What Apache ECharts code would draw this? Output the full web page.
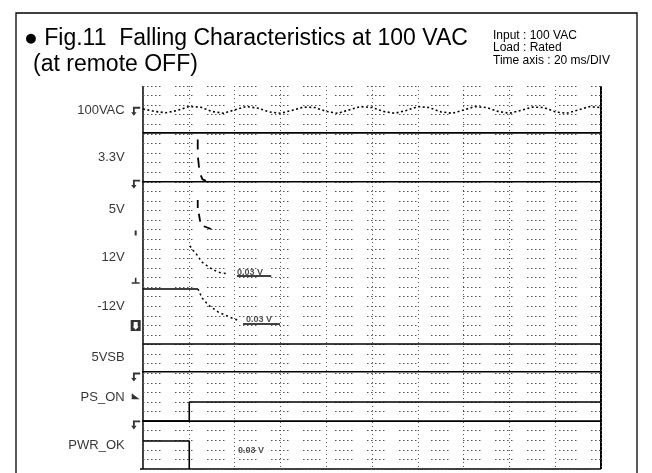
<!DOCTYPE html>
<html><head><meta charset="utf-8">
<script src="https://cdn.jsdelivr.net/npm/echarts@6/dist/echarts.min.js"></script>
<style>html,body{margin:0;padding:0;background:#fff}#c{width:652px;height:473px}</style>
</head><body><div id="c"></div>
<script>
// ---- data (time in ms, level in screen divisions) ----
const channelNames = ['100VAC', '3.3V', '5V', '12V', '-12V', '5VSB', 'PS_ON', 'PWR_OK'];
const channelLabelLevel = [7.5, 6.5, 5.42, 4.42, 3.4, 2.33, 1.5, 0.5];

const acTime = [0,5,10,15,20,25,30,35,40,45,50,55,60,65,70,75,80,85,90,95,100,105,110,115,120,125,130,135,140,145,150,155,160,165,170,175,180,185,190,195,200];
const acLevel = [7.52,7.47,7.44,7.49,7.57,7.56,7.47,7.43,7.50,7.57,7.54,7.46,7.43,7.49,7.56,7.55,7.47,7.43,7.50,7.57,7.55,7.47,7.43,7.49,7.57,7.55,7.46,7.43,7.50,7.57,7.55,7.47,7.43,7.49,7.56,7.55,7.46,7.43,7.50,7.57,7.55];

const rail33 = [[0, 7.02], [200, 7.02]];
const fall33 = [[23.9, 6.88], [23.9, 6.55], [24.4, 6.33], [25, 6.16], [26, 6.05], [27.5, 6.02]];
const rail5 = [[-4.4, 6.0], [200, 6.0]];
const fall5 = [[23.9, 5.62], [23.9, 5.42], [24.5, 5.3], [25, 5.16], [26, 5.08], [30, 5.01]];
const fall12 = [[20.5, 4.66], [21.8, 4.57], [23.6, 4.47], [25.8, 4.32], [29.3, 4.2], [32.8, 4.11], [36.7, 4.08]];
const cursor12 = [[41, 4.03], [56, 4.03]];
const hold12n = [[0, 3.76], [24, 3.76]];
const fall12n = [[24, 3.76], [25.8, 3.57], [28.4, 3.43], [32.8, 3.28], [38, 3.17], [42.4, 3.09]];
const cursor12n = [[43.7, 3.03], [59.8, 3.03]];
const sepLine = [[0, 2.61], [200, 2.61]];
const rail5sb = [[-4.4, 2.03], [200, 2.03]];
const psOnBase = [[-4.4, 1.0], [200, 1.0]];
const psOn = [[0, 1.0], [20.2, 1.0], [20.2, 1.4], [200, 1.4]];
const pwrOk = [[0, 0.585], [20.2, 0.585], [20.2, 0]];

const cursorTexts = ['0.03 V', '0.03 V', '0.03 V'];
const cursorTextPos = [[41, 4.11], [45, 3.12], [41.5, 0.38]];

// ground / channel markers left of the screen
const markerLevel = [7.47, 5.95, 4.93, 3.93, 3.0, 1.92, 1.52, 0.92];
const markerKind = ['arrow', 'arrow', 'tick', 'tee', 'box', 'arrow', 'tri', 'arrow'];

// ---- chart ----
const chart = echarts.init(document.getElementById('c'), null, {renderer: 'canvas'});
const FONT = '"Liberation Sans", Arial, sans-serif';

function solid(data, w) {
  return {type: 'line', data, showSymbol: false, clip: false, silent: true,
    lineStyle: {color: '#000', width: w || 1.6}, animation: false};
}
function dotted(data, dash, w) {
  return {type: 'line', data, showSymbol: false, clip: false, silent: true,
    lineStyle: {color: '#000', width: w || 1.5, type: dash}, animation: false};
}
const markerSymbols = {
  arrow: 'path://M2,0 L10,0 L10,2 L4,2 L4,6 L6,6 L3,10 L0,6 L2,6 Z',
  tick: 'rect',
  tee: 'path://M4,0 L6,0 L6,6 L10,6 L10,8 L0,8 L0,6 L4,6 Z',
  box: 'path://M0,0 L10,0 L10,10 L0,10 Z M3,2 L3,6 L2,6 L5,9 L8,6 L7,6 L7,2 Z',
  tri: 'path://M0,0 L10,8 L0,8 Z'
};
const markerSizes = {arrow: [9, 9], tick: [2, 5], tee: [8, 6], box: [10, 11], tri: [8, 6]};

const labelData = channelNames.map((n, i) => ({value: [-8, channelLabelLevel[i]], name: n}));
const cursorData = cursorTexts.map((t, i) => ({value: cursorTextPos[i], name: t}));
const markerData = markerLevel.map((v, i) => ({
  value: [-3.2, v], symbol: markerSymbols[markerKind[i]], symbolSize: markerSizes[markerKind[i]]
}));

chart.setOption({
  animation: false,
  grid: {left: 143, right: 51, top: 86, bottom: 4},
  xAxis: {
    type: 'value', min: 0, max: 200, interval: 20,
    axisLine: {show: false}, axisTick: {show: false}, axisLabel: {show: false},
    splitLine: {show: true, lineStyle: {color: '#555', width: 1, type: [1, 3]}}
  },
  yAxis: {
    type: 'value', min: 0, max: 8, interval: 0.2,
    axisLine: {show: false}, axisTick: {show: false}, axisLabel: {show: false},
    splitLine: {show: true, lineStyle: {color: '#555', width: 1, type: [1.5, 2.5, 1.5, 2.5, 1.5, 2.5, 1.5, 2.5, 1.5, 14.5]}}
  },
  graphic: [
    {type: 'rect', shape: {x: 16, y: 13, width: 621, height: 480}, style: {fill: 'none', stroke: '#000', lineWidth: 1.3}, silent: true},
    {type: 'line', shape: {x1: 143, y1: 86, x2: 143, y2: 469}, style: {stroke: '#000', lineWidth: 1.5}},
    {type: 'line', shape: {x1: 601, y1: 86, x2: 601, y2: 469}, style: {stroke: '#000', lineWidth: 2}},
    {type: 'line', shape: {x1: 140, y1: 469, x2: 601, y2: 469}, style: {stroke: '#000', lineWidth: 1.5}},
    {type: 'text', left: 24, top: 27, style: {text: '● Fig.11  Falling Characteristics at 100 VAC', font: '23px ' + FONT, fill: '#000'}},
    {type: 'text', left: 33, top: 53, style: {text: '(at remote OFF)', font: '23px ' + FONT, fill: '#000'}},
    {type: 'text', left: 493, top: 29, style: {text: 'Input : 100 VAC\nLoad : Rated\nTime axis : 20 ms/DIV', font: '12px ' + FONT, lineHeight: 12.5, fill: '#000'}}
  ],
  series: [
    dotted(acTime.map((t, i) => [t, acLevel[i]]), [2, 2.5], 1.6),
    solid(rail33), dotted(fall33, [10, 8], 1.8),
    solid(rail5), dotted(fall5, [8, 6], 1.8),
    dotted(fall12, [2, 3], 1.5), solid(cursor12),
    solid(hold12n), dotted(fall12n, [2, 3], 1.5), solid(cursor12n),
    solid(sepLine), solid(rail5sb), solid(psOnBase), solid(psOn), solid(pwrOk),
    {type: 'scatter', data: markerData, clip: false, silent: true, itemStyle: {color: '#000'}},
    {type: 'scatter', data: labelData, symbolSize: 0, clip: false, silent: true,
      label: {show: true, position: 'left', distance: 0, formatter: p => p.name, color: '#000', fontSize: 13, fontFamily: FONT}},
    {type: 'scatter', data: cursorData, symbolSize: 0, clip: false, silent: true,
      label: {show: true, position: 'right', distance: 0, formatter: p => p.name, color: '#222', fontSize: 9, fontWeight: 'bold', fontFamily: FONT}}
  ]
});
</script>
</body></html>
